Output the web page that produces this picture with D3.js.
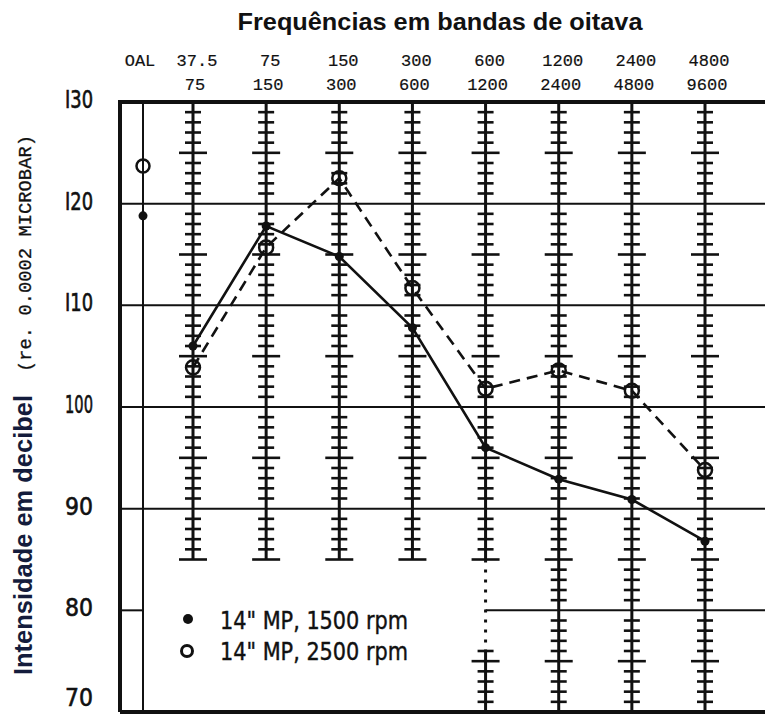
<!DOCTYPE html>
<html>
<head>
<meta charset="utf-8">
<script src="https://cdn.jsdelivr.net/npm/d3@7"></script>
<style>
  html, body { margin: 0; padding: 0; background: #fff; }
  svg { display: block; }
</style>
</head>
<body>
<svg id="chart" width="765" height="715"></svg>
<script>
// ---------- data ----------
const bandLow  = ["37.5", "75", "150", "300", "600", "1200", "2400", "4800"];
const bandHigh = ["75", "150", "300", "600", "1200", "2400", "4800", "9600"];
const rpm1500  = [106.0, 117.8, 114.8, 107.8, 96.0, 92.9, 90.9, 86.8];
const rpm2500  = [103.9, 115.7, 122.5, 111.7, 101.8, 103.6, 101.6, 93.8];
const oal1500  = [118.8];
const oal2500  = [123.7];
const columnBottom = [85, 85, 85, 85, 70, 70, 70, 70];
const columnGap    = [null, null, null, null, [76, 85], null, null, null];
const yTickValues  = [130, 120, 110, 100, 90, 80, 70];
const legendLabels = ["14\" MP, 1500 rpm", "14\" MP, 2500 rpm"];

// ---------- layout ----------
const svg = d3.select("#chart");
const frameLeft = 120, frameRight = 765;
const oalX = 143;
const y = d3.scaleLinear().domain([70, 130]).range([712, 102]);
const x = d3.scalePoint().domain(bandLow).range([193, 705]);

const ink = "#111";
const mono = "'Liberation Mono', 'DejaVu Sans Mono', monospace";
const narrow = "'Liberation Sans Narrow', 'DejaVu Sans Condensed', 'Liberation Sans', sans-serif";
const sans = "'Liberation Sans', Arial, sans-serif";

// title
svg.append("text")
  .attr("x", 440).attr("y", 30)
  .attr("text-anchor", "middle")
  .attr("font-family", sans).attr("font-weight", "bold")
  .attr("font-size", 24)
  .attr("textLength", 405).attr("lengthAdjust", "spacingAndGlyphs")
  .attr("fill", ink)
  .text("Frequências em bandas de oitava");

// header labels
const hdr = svg.append("g").attr("font-family", mono).attr("font-size", 17)
  .attr("fill", ink).attr("stroke", ink).attr("stroke-width", 0.2)
  .attr("text-anchor", "middle");
hdr.append("text").attr("x", oalX - 3).attr("y", 66).text("OAL");
hdr.selectAll("text.low").data(bandLow).join("text").attr("class", "low")
  .attr("x", d => x(d) + 4).attr("y", 66).text(d => d);
hdr.selectAll("text.high").data(bandHigh).join("text").attr("class", "high")
  .attr("x", (d, i) => x(bandLow[i]) + 2).attr("y", 90).text(d => d);

// y tick labels
svg.append("g").selectAll("text").data(yTickValues).join("text")
  .attr("x", 93).attr("y", d => Math.min(y(d) + 6, 706))
  .attr("text-anchor", "end")
  .attr("font-family", narrow).attr("font-size", 25)
  .attr("textLength", 28).attr("lengthAdjust", "spacingAndGlyphs")
  .attr("fill", ink).attr("stroke", ink).attr("stroke-width", 0.6)
  .text(d => d === 130 || d === 120 || d === 110 ? "I" + String(d).slice(1) : d);

// y axis title
svg.append("text")
  .attr("transform", "translate(32,675) rotate(-90)")
  .attr("font-family", sans).attr("font-weight", "bold").attr("font-size", 25)
  .attr("textLength", 280).attr("lengthAdjust", "spacingAndGlyphs")
  .attr("fill", "#141c3c")
  .text("Intensidade em decibel");
svg.append("text")
  .attr("transform", "translate(31,372) rotate(-90)")
  .attr("font-family", mono).attr("font-size", 18)
  .attr("textLength", 237).attr("lengthAdjust", "spacingAndGlyphs")
  .attr("fill", ink).attr("stroke", ink).attr("stroke-width", 0.3)
  .text("(re. 0.0002 MICROBAR)");

// grid lines
const grid = svg.append("g").attr("stroke", ink).attr("stroke-width", 2);
grid.selectAll("line.g").data([120, 110, 100, 90]).join("line").attr("class", "g")
  .attr("x1", frameLeft).attr("x2", frameRight)
  .attr("y1", d => y(d)).attr("y2", d => y(d));
grid.append("line").attr("x1", frameLeft).attr("x2", oalX).attr("y1", y(80)).attr("y2", y(80));
grid.append("line").attr("x1", x("600")).attr("x2", frameRight).attr("y1", y(80)).attr("y2", y(80));

// OAL column
svg.append("line").attr("x1", oalX).attr("x2", oalX).attr("y1", y(130)).attr("y2", y(70))
  .attr("stroke", ink).attr("stroke-width", 2);

// band columns with scale ticks
const cols = svg.append("g").attr("stroke", ink);
bandLow.forEach((b, i) => {
  const cx = x(b);
  const bottom = columnBottom[i];
  const gap = columnGap[i];
  if (gap) {
    cols.append("line").attr("x1", cx).attr("x2", cx).attr("y1", y(130)).attr("y2", y(gap[1])).attr("stroke-width", 3);
    cols.append("line").attr("x1", cx).attr("x2", cx).attr("y1", y(gap[1])).attr("y2", y(gap[0]))
      .attr("stroke-width", 3).attr("stroke-dasharray", "3,7");
    cols.append("line").attr("x1", cx).attr("x2", cx).attr("y1", y(gap[0])).attr("y2", y(bottom)).attr("stroke-width", 3);
  } else {
    cols.append("line").attr("x1", cx).attr("x2", cx).attr("y1", y(130)).attr("y2", y(bottom)).attr("stroke-width", 3);
  }
  const ticks = d3.range(bottom, 130).filter(v => v % 10 !== 0 && !(gap && v > gap[0] && v < gap[1]) );
  cols.selectAll(null).data(ticks).join("line")
    .attr("x1", v => cx - (v % 5 === 0 ? 14 : 8))
    .attr("x2", v => cx + (v % 5 === 0 ? 14 : 8))
    .attr("y1", v => y(v)).attr("y2", v => y(v))
    .attr("stroke-width", 2.6);
});

// frame
const frame = svg.append("g").attr("stroke", ink).attr("stroke-width", 4).attr("fill", "none");
frame.append("path").attr("d", `M${frameLeft},${y(70)}V${y(130)}H${frameRight}`);
frame.append("line").attr("x1", frameLeft).attr("x2", frameRight).attr("y1", y(70)).attr("y2", y(70));

// series lines
const lineGen = d3.line().x((d, i) => x(bandLow[i])).y(d => y(d));
svg.append("path").datum(rpm1500).attr("d", lineGen)
  .attr("fill", "none").attr("stroke", ink).attr("stroke-width", 2.6);
svg.append("path").datum(rpm2500).attr("d", lineGen)
  .attr("fill", "none").attr("stroke", ink).attr("stroke-width", 2.6).attr("stroke-dasharray", "11,7");

// markers
svg.append("g").selectAll("circle").data(rpm1500).join("circle")
  .attr("cx", (d, i) => x(bandLow[i])).attr("cy", d => y(d)).attr("r", 4.5).attr("fill", ink);
svg.append("g").selectAll("circle").data(rpm2500).join("circle")
  .attr("cx", (d, i) => x(bandLow[i])).attr("cy", d => y(d)).attr("r", 7)
  .attr("fill", "none").attr("stroke", ink).attr("stroke-width", 2.5);
svg.append("g").selectAll("circle").data(oal1500).join("circle")
  .attr("cx", oalX).attr("cy", d => y(d)).attr("r", 4.5).attr("fill", ink);
svg.append("g").selectAll("circle").data(oal2500).join("circle")
  .attr("cx", oalX).attr("cy", d => y(d)).attr("r", 6.5)
  .attr("fill", "none").attr("stroke", ink).attr("stroke-width", 2.5);

// legend
const leg = svg.append("g");
leg.append("circle").attr("cx", 188).attr("cy", 619).attr("r", 5).attr("fill", ink);
leg.append("circle").attr("cx", 187).attr("cy", 651).attr("r", 5.5)
  .attr("fill", "none").attr("stroke", ink).attr("stroke-width", 3);
leg.selectAll("text").data(legendLabels).join("text")
  .attr("x", 220).attr("y", (d, i) => 629 + i * 31)
  .attr("font-family", narrow).attr("font-size", 25)
  .attr("textLength", 188).attr("lengthAdjust", "spacingAndGlyphs")
  .attr("fill", ink).attr("stroke", ink).attr("stroke-width", 0.4)
  .text(d => d);
</script>
</body>
</html>
